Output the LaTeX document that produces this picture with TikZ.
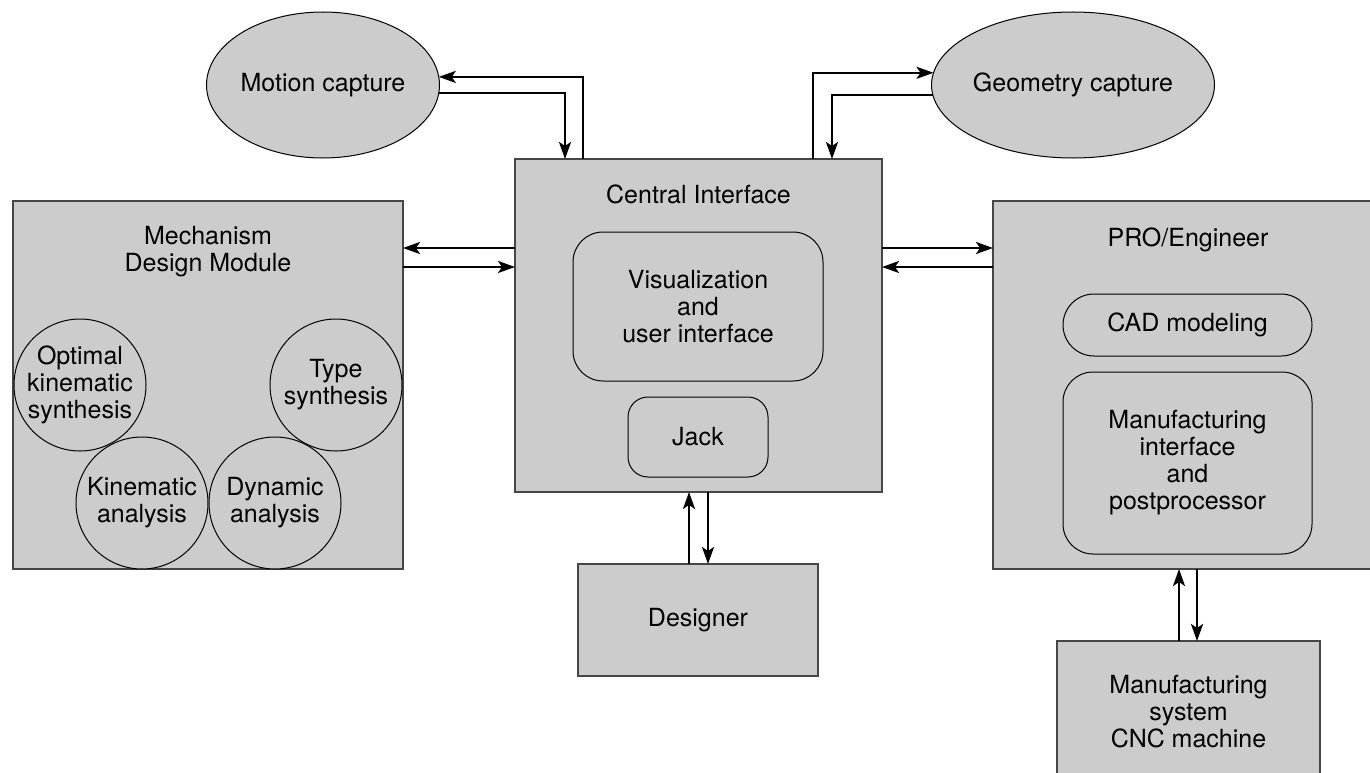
\documentclass[tikz,border=0pt]{standalone}
\usepackage{fontspec}
\setmainfont{TeX Gyre Heros}
\usetikzlibrary{shapes.geometric,arrows.meta}
\definecolor{boxfill}{RGB}{204,204,204}
\definecolor{boxline}{RGB}{70,70,70}
\tikzset{
  txt/.style={font=\fontsize{25}{27}\selectfont, align=center, text=black},
  bigbox/.style={txt, draw=boxline, line width=1.5pt, fill=boxfill, rectangle, outer sep=0pt, inner sep=0pt},
  inbox/.style={txt, draw=black, line width=1pt, fill=boxfill, rectangle, rounded corners=#1, outer sep=0pt, inner sep=0pt},
  inbox/.default=30pt,
  circ/.style={txt, draw=black, line width=1pt, fill=boxfill, circle, minimum size=132pt, inner sep=0pt, outer sep=0pt},
  ell/.style={txt, draw=black, line width=1pt, fill=boxfill, ellipse, inner sep=0pt, outer sep=0pt},
  arr/.style={line width=2.5pt, -{Stealth[length=17pt,width=12pt,inset=4pt]}},
  ttl/.style={txt, inner sep=0pt}
}
\begin{document}
\begin{tikzpicture}[x=1pt,y=-1pt]
\useasboundingbox (0,0) rectangle (1370,773);
% ellipses
\node[ell, minimum width=232pt, minimum height=146pt] (motion) at (323,85) {Motion capture};
\node[ell, minimum width=234pt, minimum height=146pt] (geom) at (1073,85) {Geometry capture};
% main boxes
\node[bigbox, minimum width=390pt, minimum height=368pt] (mech) at (208,385) {};
\node[bigbox, minimum width=367pt, minimum height=333pt] (central) at (698.5,325.5) {};
\node[bigbox, minimum width=390pt, minimum height=368pt] (pro) at (1188,385) {};
\node[bigbox, minimum width=240pt, minimum height=112pt] (designer) at (698,620) {Designer};
\node[bigbox, minimum width=263pt, minimum height=142pt] (mfgsys) at (1188.5,712) {Manufacturing\\system\\CNC machine};
% titles
\node[ttl, anchor=north] (mechT) at (208,226.5) {Mechanism\\Design Module};
\node[ttl, anchor=base] (centralT) at (698.5,203) {Central Interface};
\node[ttl, anchor=base] (proT) at (1188,246) {PRO/Engineer};
% inner shapes
\node[inbox=30pt, minimum width=250pt, minimum height=149pt] (vis) at (698,306.5) {Visualization\\and\\user interface};
\node[inbox=20pt, minimum width=140pt, minimum height=80pt] (jack) at (698,437) {Jack};
\node[inbox=31pt, minimum width=249pt, minimum height=62pt] (cad) at (1187.5,325) {CAD modeling};
\node[inbox=30pt, minimum width=249pt, minimum height=182pt] (mfgif) at (1187.5,463) {Manufacturing\\interface\\and\\postprocessor};
% circles
\node[circ] (opt) at (80,385) {Optimal\\kinematic\\synthesis};
\node[circ] (type) at (336,385) {Type\\synthesis};
\node[circ] (kin) at (142,503) {Kinematic\\analysis};
\node[circ] (dyn) at (275,503) {Dynamic\\analysis};
% helper coordinates
\coordinate (yA) at (0,248);
\coordinate (yB) at (0,267);
\coordinate (xA) at (583,0);
\coordinate (xB) at (565,0);
\coordinate (xG) at (813,0);
\coordinate (xH) at (832,0);
\coordinate (xC) at (689,0);
\coordinate (xD) at (708,0);
\coordinate (xE) at (1179,0);
\coordinate (xF) at (1197,0);
% top connectors
\draw[arr] (central.north -| xA) |- (motion.4.5);
\draw[arr] (motion.-4) -| (central.north -| xB);
\draw[arr] (central.north -| xG) |- (geom.175.5);
\draw[arr] (geom.184) -| (central.north -| xH);
% side connectors
\draw[arr] (central.west |- yA) -- (mech.east |- yA);
\draw[arr] (mech.east |- yB) -- (central.west |- yB);
\draw[arr] (central.east |- yA) -- (pro.west |- yA);
\draw[arr] (pro.west |- yB) -- (central.east |- yB);
% bottom connectors
\draw[arr] (designer.north -| xC) -- (central.south -| xC);
\draw[arr] (central.south -| xD) -- (designer.north -| xD);
\draw[arr] (mfgsys.north -| xE) -- (pro.south -| xE);
\draw[arr] (pro.south -| xF) -- (mfgsys.north -| xF);
\end{tikzpicture}
\end{document}
